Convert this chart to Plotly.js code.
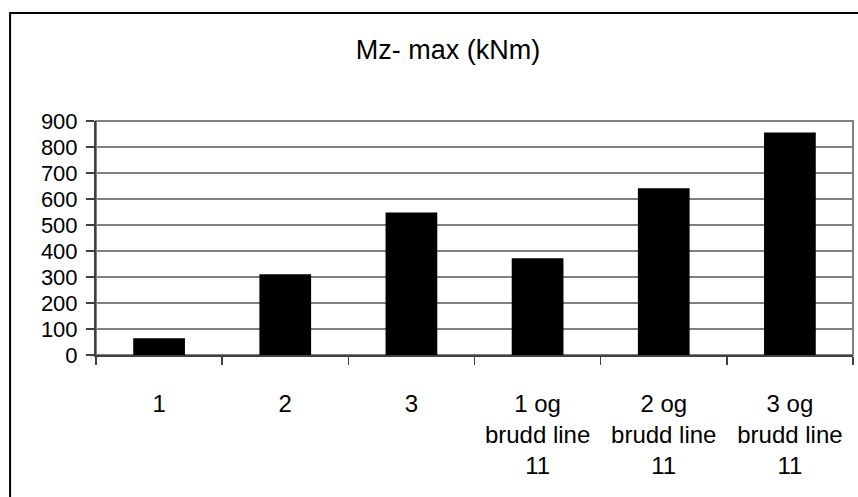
<!DOCTYPE html>
<html>
<head>
<meta charset="utf-8">
<script src="https://cdn.plot.ly/plotly-3.0.1.min.js"></script>
<style>
  html, body { margin: 0; padding: 0; background: #ffffff; }
  #chart { width: 858px; height: 497px; }
</style>
</head>
<body>
<div id="chart"></div>
<script>
// Load cases and the maximum Mz moment for each (kNm)
const categories = ["1", "2", "3", "1 og<br>brudd line<br>11", "2 og<br>brudd line<br>11", "3 og<br>brudd line<br>11"];
const mzMax = [64, 311, 548, 372, 641, 856];
const yTicks = [0, 100, 200, 300, 400, 500, 600, 700, 800, 900];

const family = "Arial, 'Liberation Sans', sans-serif";

const trace = {
  type: "bar",
  x: categories,
  y: mzMax,
  marker: { color: "#000000", line: { width: 0 } },
  hoverinfo: "skip"
};

const layout = {
  width: 858,
  height: 497,
  margin: { l: 96, r: 4.5, t: 121, b: 142, pad: 0 },
  paper_bgcolor: "#ffffff",
  plot_bgcolor: "#ffffff",
  font: { family: family, size: 22, color: "#000000" },
  showlegend: false,
  bargap: 0.59,
  title: {
    text: "Mz- max (kNm)",
    font: { family: family, size: 27, color: "#000000" },
    xref: "paper", x: 0.465, xanchor: "center",
    yref: "container", y: 0.9, yanchor: "middle"
  },
  xaxis: {
    type: "category",
    tickson: "boundaries",
    ticks: "outside",
    ticklen: 8,
    tickwidth: 1.5,
    tickcolor: "#404040",
    showline: true,
    linecolor: "#404040",
    linewidth: 2,
    showgrid: false,
    zeroline: false,
    tickfont: { family: family, size: 24, color: "#000000" },
    ticklabelstandoff: 26,
    fixedrange: true
  },
  yaxis: {
    range: [0, 900],
    tickvals: yTicks,
    ticktext: yTicks.map(String),
    ticks: "outside",
    ticklen: 8,
    tickwidth: 1.5,
    tickcolor: "#404040",
    showline: true,
    linecolor: "#404040",
    linewidth: 2,
    showgrid: true,
    gridcolor: "#808080",
    gridwidth: 2,
    zeroline: false,
    tickfont: { family: family, size: 22, color: "#000000" },
    ticklabelstandoff: 4,
    fixedrange: true
  },
  shapes: [
    // grey border around the plot area
    { type: "rect", xref: "paper", yref: "paper", x0: 0, x1: 1, y0: 0, y1: 1,
      line: { color: "#808080", width: 2 }, layer: "below" },
    // outer chart frame
    { type: "rect", xref: "paper", yref: "paper", x0: -0.1135, x1: 1.2, y0: -0.8, y1: 1.4615,
      line: { color: "#000000", width: 2 }, layer: "below" }
  ]
};

Plotly.newPlot("chart", [trace], layout, { staticPlot: true, displayModeBar: false });
</script>
</body>
</html>
